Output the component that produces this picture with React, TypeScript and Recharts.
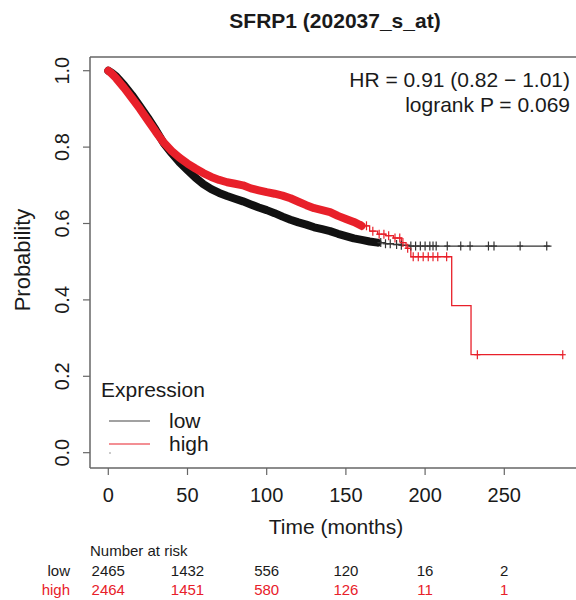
import React from 'react';
import { ComposedChart, Line, Scatter, XAxis, YAxis, ReferenceLine } from 'recharts';

// ---- Data ----
const xTicks = [0, 50, 100, 150, 200, 250];
const yTicks = [0, 0.2, 0.4, 0.6, 0.8, 1.0];

const lowTimes = [0, 2, 5, 10, 15, 20, 25, 30, 35, 40, 45, 50, 55, 60, 65, 70, 75, 80, 85, 90, 95, 100, 105, 110, 115, 120, 125, 130, 135, 140, 145, 150, 155, 160, 165, 170, 175, 180, 185, 190, 279.8];
const lowSurv = [1.0, 0.995, 0.985, 0.962, 0.936, 0.907, 0.877, 0.845, 0.81, 0.784, 0.76, 0.74, 0.72, 0.703, 0.69, 0.68, 0.672, 0.665, 0.658, 0.65, 0.642, 0.635, 0.627, 0.618, 0.61, 0.603, 0.597, 0.59, 0.585, 0.58, 0.573, 0.567, 0.561, 0.557, 0.553, 0.55, 0.547, 0.545, 0.543, 0.541, 0.541];

const highTimes = [0, 2, 5, 10, 15, 20, 25, 30, 35, 40, 45, 50, 55, 60, 65, 70, 75, 80, 85, 90, 95, 100, 105, 110, 115, 120, 125, 130, 135, 140, 145, 150, 155, 160, 165, 170, 175, 180, 185, 188, 191, 216.8, 229, 286.9];
const highSurv = [1.0, 0.993, 0.98, 0.955, 0.928, 0.9, 0.87, 0.84, 0.812, 0.79, 0.772, 0.757, 0.744, 0.732, 0.722, 0.714, 0.708, 0.704, 0.7, 0.692, 0.687, 0.682, 0.678, 0.673, 0.666, 0.657, 0.648, 0.64, 0.635, 0.63, 0.62, 0.612, 0.604, 0.594, 0.58, 0.572, 0.568, 0.562, 0.55, 0.535, 0.513, 0.385, 0.2565, 0.2565];

const lowCensorTimes = [172, 175, 178, 182, 185, 191, 194, 197, 200, 203, 205, 207, 214, 222.5, 228.4, 240, 243.5, 260, 276.8];
const highCensorTimes = [160, 163, 167, 171, 174, 177, 181, 184, 186, 189, 192.5, 195.7, 198.8, 202, 205, 208, 213.6, 233, 286.9];

const lowBandEnd = 170;
const highBandEnd = 160;

const riskLow = [2465, 1432, 556, 120, 16, 2];
const riskHigh = [2464, 1451, 580, 126, 11, 1];

const title = 'SFRP1 (202037_s_at)';
const hrText = 'HR = 0.91 (0.82 \u2212 1.01)';
const pText = 'logrank P = 0.069';

// ---- Helpers ----
const toCurve = (times: number[], surv: number[]) => times.map((t, i) => ({ t, s: surv[i] }));
const survAt = (times: number[], surv: number[], t: number) => {
  let v = surv[0];
  for (let i = 0; i < times.length; i++) {
    if (times[i] <= t) v = surv[i];
  }
  return v;
};

const lowCurve = toCurve(lowTimes, lowSurv);
const highCurve = toCurve(highTimes, highSurv);
const lowBand = lowCurve.filter((d) => d.t <= lowBandEnd);
const highBand = highCurve.filter((d) => d.t <= highBandEnd);
const lowThin = lowCurve.filter((d) => d.t >= lowBandEnd);
const highThin = highCurve.filter((d) => d.t >= highBandEnd);
const lowCensor = lowCensorTimes.map((t) => ({ t, s: survAt(lowTimes, lowSurv, t) }));
const highCensor = highCensorTimes.map((t) => ({ t, s: survAt(highTimes, highSurv, t) }));

const BLACK = '#111111';
const RED = '#e8202a';
const AXIS = '#666666';
const FONT = '"Liberation Sans", Arial, Helvetica, sans-serif';

const X_MIN = -11.55;
const X_MAX = 295.27;
const Y_MIN = -0.0401;
const Y_MAX = 1.0359;

const plus = (color: string) => (props: any) => {
  const { cx, cy } = props;
  if (cx == null || cy == null) return <g />;
  return (
    <g>
      <line x1={cx} y1={cy - 4.5} x2={cx} y2={cy + 4.5} stroke={color} strokeWidth={1.2} />
      <line x1={cx - 3} y1={cy} x2={cx + 3} y2={cy} stroke={color} strokeWidth={1.2} />
    </g>
  );
};

const YTick = (props: any) => {
  const { y, payload } = props;
  const x = 62;
  return (
    <text
      x={x}
      y={y}
      transform={`rotate(-90, ${x}, ${y})`}
      textAnchor="middle"
      dominantBaseline="central"
      fontFamily={FONT}
      fontSize={20}
      fill="#1a1a1a"
    >
      {Number(payload.value).toFixed(1)}
    </text>
  );
};

const XTick = (props: any) => {
  const { x, payload, index } = props;
  return (
    <g>
      <text x={x} y={502} textAnchor="middle" fontFamily={FONT} fontSize={20} fill="#1a1a1a">
        {payload.value}
      </text>
      <text x={x} y={576} textAnchor="middle" fontFamily={FONT} fontSize={15} fill="#1a1a1a">
        {riskLow[index]}
      </text>
      <text x={x} y={595} textAnchor="middle" fontFamily={FONT} fontSize={15} fill={RED}>
        {riskHigh[index]}
      </text>
    </g>
  );
};

export default function App() {
  return (
    <div style={{ position: 'fixed', left: 0, top: 0, width: 576, height: 600, overflow: 'hidden', background: '#fff' }}>
      <ComposedChart width={576} height={600} margin={{ top: 57, right: 0, left: 0, bottom: 0 }}>
        <XAxis
          type="number"
          dataKey="t"
          domain={[X_MIN, X_MAX]}
          allowDataOverflow
          ticks={xTicks}
          interval={0}
          height={132}
          tickSize={7}
          stroke={AXIS}
          axisLine={{ stroke: AXIS, strokeWidth: 1.5 }}
          tickLine={{ stroke: AXIS, strokeWidth: 1.2 }}
          tick={<XTick />}
        />
        <YAxis
          type="number"
          dataKey="s"
          domain={[Y_MIN, Y_MAX]}
          allowDataOverflow
          ticks={yTicks}
          interval={0}
          width={90}
          tickSize={7}
          axisLine={{ stroke: AXIS, strokeWidth: 1.5 }}
          tickLine={{ stroke: AXIS, strokeWidth: 1.2 }}
          tick={<YTick />}
        />
        <ReferenceLine y={Y_MAX} stroke={AXIS} strokeWidth={1.5} />
        {/* dense censoring bands */}
        <Line data={lowBand} dataKey="s" type="linear" stroke={BLACK} strokeWidth={8} strokeLinejoin="round" strokeLinecap="round" dot={false} isAnimationActive={false} />
        <Line data={lowThin} dataKey="s" type="stepAfter" stroke="#333" strokeWidth={1.3} dot={false} isAnimationActive={false} />
        <Scatter data={lowCensor} dataKey="s" shape={plus('#333')} isAnimationActive={false} />
        <Line data={highBand} dataKey="s" type="linear" stroke={RED} strokeWidth={8} strokeLinejoin="round" strokeLinecap="round" dot={false} isAnimationActive={false} />
        <Line data={highThin} dataKey="s" type="stepAfter" stroke={RED} strokeWidth={1.3} dot={false} isAnimationActive={false} />
        <Scatter data={highCensor} dataKey="s" shape={plus(RED)} isAnimationActive={false} />
      </ComposedChart>
      <svg width={576} height={600} style={{ position: 'absolute', left: 0, top: 0, pointerEvents: 'none' }}>
        <text x={335} y={28} textAnchor="middle" fontFamily={FONT} fontSize={21} fontWeight="bold" fill="#1a1a1a">
          {title}
        </text>
        <text x={570} y={87} textAnchor="end" fontFamily={FONT} fontSize={21} fill="#1a1a1a">
          {hrText}
        </text>
        <text x={570} y={112} textAnchor="end" fontFamily={FONT} fontSize={21} fill="#1a1a1a">
          {pText}
        </text>
        <text x={22} y={260} transform="rotate(-90, 22, 260)" textAnchor="middle" dominantBaseline="central" fontFamily={FONT} fontSize={22} fill="#1a1a1a">
          Probability
        </text>
        <text x={336} y={534} textAnchor="middle" fontFamily={FONT} fontSize={21} fill="#1a1a1a">
          Time (months)
        </text>
        <text x={101} y={397} fontFamily={FONT} fontSize={21} fill="#1a1a1a">Expression</text>
        <line x1={109} y1={421} x2={150} y2={421} stroke="#444" strokeWidth={1.2} />
        <text x={169} y={428} fontFamily={FONT} fontSize={21} fill="#1a1a1a">low</text>
        <line x1={109} y1={444} x2={150} y2={444} stroke={RED} strokeWidth={1.2} />
        <text x={169} y={451} fontFamily={FONT} fontSize={21} fill="#1a1a1a">high</text>
        <circle cx={110} cy={453} r={0.8} fill="#888" />
        <text x={90} y={556} fontFamily={FONT} fontSize={15} fill="#1a1a1a">Number at risk</text>
        <text x={70} y={576} textAnchor="end" fontFamily={FONT} fontSize={15} fill="#1a1a1a">low</text>
        <text x={70} y={595} textAnchor="end" fontFamily={FONT} fontSize={15} fill={RED}>high</text>
      </svg>
    </div>
  );
}
